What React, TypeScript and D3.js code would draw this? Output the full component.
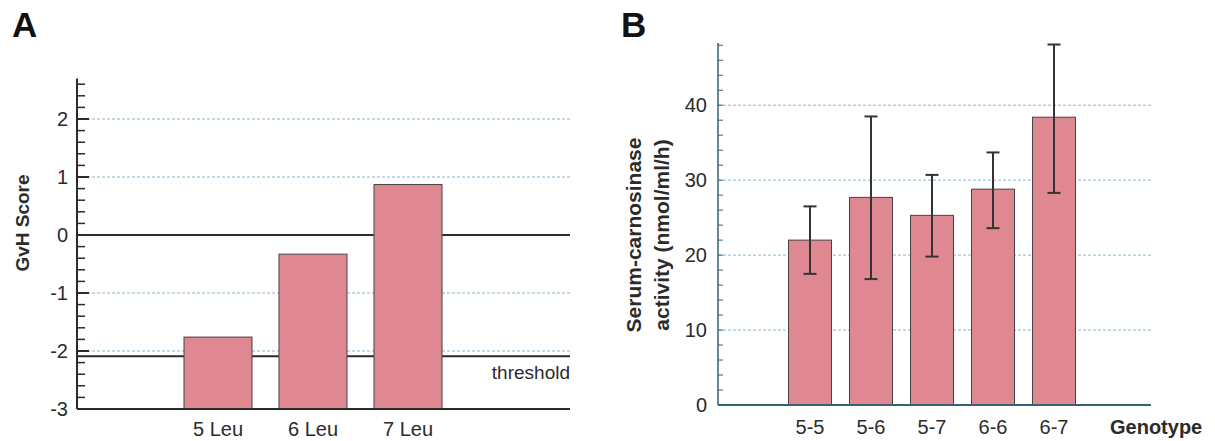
import React from 'react';
import * as d3 from 'd3';

// Panel A: GvH score per Leu repeat length
const gvhCategories = ['5 Leu', '6 Leu', '7 Leu'];
const gvhScores = [-1.76, -0.33, 0.87];
const gvhThreshold = -2.09;
const gvhMajorTicks = [-3, -2, -1, 0, 1, 2];
const gvhGridValues = [2, 1, -1, -2];

// Panel B: serum carnosinase activity per genotype
const genotypes = ['5-5', '5-6', '5-7', '6-6', '6-7'];
const activityMean = [22.0, 27.7, 25.3, 28.8, 38.4];
const activityLow = [17.5, 16.8, 19.8, 23.6, 28.3];
const activityHigh = [26.5, 38.5, 30.7, 33.7, 48.1];
const activityTicks = [0, 10, 20, 30, 40];

const FONT = '"Liberation Sans", Arial, Helvetica, sans-serif';
const BAR_FILL = '#e08892';
const BAR_STROKE = '#444';
const GRID = '#86b6d2';
const INK = '#2b2b2b';

const PanelA = () => {
  const y = d3.scaleLinear().domain([-3, 2.7]).range([409, 78.4]);
  const x = d3.scaleBand<string>().domain(gvhCategories).range([170.5, 455.5]).paddingInner(0.284).paddingOuter(0.142);
  const left = 77;
  const right = 570;
  const minor = d3.range(-3, 2.61, 0.2).map(v => Math.round(v * 10) / 10);

  return (
    <g>
      <text x={12} y={37} fontSize={35} fontWeight="bold" fill="#111">A</text>

      {/* gridlines */}
      {gvhGridValues.map(v => (
        <line key={v} x1={left} x2={right} y1={y(v)} y2={y(v)} stroke={GRID} strokeDasharray="3,2" strokeWidth={1} />
      ))}
      <line x1={left} x2={right} y1={y(0)} y2={y(0)} stroke={INK} strokeWidth={2} />
      <line x1={left} x2={right} y1={y(gvhThreshold)} y2={y(gvhThreshold)} stroke={INK} strokeWidth={2} />

      {/* bars */}
      {gvhCategories.map((c, i) => (
        <rect key={c} x={x(c)} y={y(gvhScores[i])} width={x.bandwidth()} height={y(-3) - y(gvhScores[i])}
          fill={BAR_FILL} stroke={BAR_STROKE} strokeWidth={1} />
      ))}

      {/* axes */}
      <line x1={left} x2={right} y1={y(-3)} y2={y(-3)} stroke={INK} strokeWidth={2} />
      <line x1={left} x2={left} y1={y(2.7)} y2={y(-3)} stroke={INK} strokeWidth={2} />
      {minor.map(v => (
        <line key={'m' + v} x1={left} x2={left + 8} y1={y(v)} y2={y(v)} stroke={INK} strokeWidth={1.5} />
      ))}
      {gvhMajorTicks.map(v => (
        <g key={v}>
          <line x1={left} x2={left + 12} y1={y(v)} y2={y(v)} stroke={INK} strokeWidth={2} />
          <text x={68} y={y(v)} dy="0.35em" textAnchor="end" fontSize={20} fill={INK}>{v}</text>
        </g>
      ))}

      {gvhCategories.map(c => (
        <text key={c} x={(x(c) ?? 0) + x.bandwidth() / 2} y={436} textAnchor="middle" fontSize={20} fill={INK}>{c}</text>
      ))}
      <text x={right} y={y(gvhThreshold) + 23} textAnchor="end" fontSize={19} fill={INK}>threshold</text>

      <text transform="translate(29, 223) rotate(-90)" textAnchor="middle" fontSize={19} fontWeight="bold" fill={INK}>GvH Score</text>
    </g>
  );
};

const PanelB = () => {
  const y = d3.scaleLinear().domain([0, 48.3]).range([405, 43]);
  const x = d3.scaleBand<string>().domain(genotypes).range([779.5, 1084.5]).paddingInner(0.295).paddingOuter(0.1475);
  const left = 718;
  const right = 1151;
  const axisColor = '#35626f';
  const minor = d3.range(0, 48.1, 2);
  const cap = 6.5;

  return (
    <g>
      <text x={621} y={37} fontSize={35} fontWeight="bold" fill="#111">B</text>

      {activityTicks.filter(v => v > 0).map(v => (
        <line key={v} x1={left} x2={right} y1={y(v)} y2={y(v)} stroke={GRID} strokeDasharray="3,2" strokeWidth={1} />
      ))}

      {genotypes.map((g, i) => (
        <rect key={g} x={x(g)} y={y(activityMean[i])} width={x.bandwidth()} height={y(0) - y(activityMean[i])}
          fill={BAR_FILL} stroke={BAR_STROKE} strokeWidth={1} />
      ))}

      {genotypes.map((g, i) => {
        const cx = (x(g) ?? 0) + x.bandwidth() / 2;
        return (
          <g key={'e' + g} stroke="#333" strokeWidth={2}>
            <line x1={cx} x2={cx} y1={y(activityLow[i])} y2={y(activityHigh[i])} />
            <line x1={cx - cap} x2={cx + cap} y1={y(activityLow[i])} y2={y(activityLow[i])} />
            <line x1={cx - cap} x2={cx + cap} y1={y(activityHigh[i])} y2={y(activityHigh[i])} />
          </g>
        );
      })}

      <line x1={left} x2={right} y1={y(0)} y2={y(0)} stroke={axisColor} strokeWidth={2} />
      <line x1={left} x2={left} y1={y(48.3)} y2={y(0)} stroke={axisColor} strokeWidth={1.5} />
      {minor.map(v => (
        <line key={'m' + v} x1={left} x2={left + 5} y1={y(v)} y2={y(v)} stroke={axisColor} strokeWidth={1} />
      ))}
      {activityTicks.map(v => (
        <text key={v} x={707} y={y(v)} dy="0.35em" textAnchor="end" fontSize={20} fill={INK}>{v}</text>
      ))}

      {genotypes.map(g => (
        <text key={g} x={(x(g) ?? 0) + x.bandwidth() / 2} y={434} textAnchor="middle" fontSize={20} fill={INK}>{g}</text>
      ))}
      <text x={1110} y={434} fontSize={20} fontWeight="bold" fill={INK}>Genotype</text>

      <text transform="translate(641, 235) rotate(-90)" textAnchor="middle" fontSize={21} fontWeight="bold" fill={INK}>Serum-carnosinase</text>
      <text transform="translate(669, 235) rotate(-90)" textAnchor="middle" fontSize={21} fontWeight="bold" fill={INK}>activity (nmol/ml/h)</text>
    </g>
  );
};

export default function App() {
  return (
    <div style={{ position: 'absolute', left: 0, top: 0 }}>
      <svg width={1215} height={441} style={{ display: 'block', fontFamily: FONT, background: '#fff' }}>
        <PanelA />
        <PanelB />
      </svg>
    </div>
  );
}
